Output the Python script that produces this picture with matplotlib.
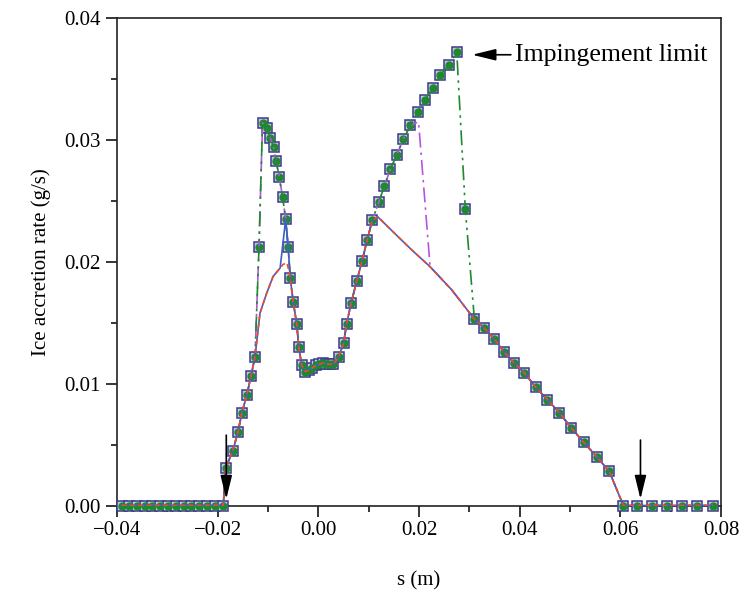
import matplotlib
matplotlib.use("Agg")
import matplotlib.pyplot as plt
from matplotlib.ticker import MultipleLocator, FuncFormatter

plt.rcParams["font.family"] = ["Liberation Serif", "DejaVu Serif"]

# zero region before the left impingement limit
s_zero_left = [-0.0391, -0.0376, -0.0360, -0.0345, -0.0330, -0.0314, -0.0299,
               -0.0283, -0.0268, -0.0253, -0.0237, -0.0222, -0.0206, -0.0189]
# rising part up to where the curves separate
s_rise = [-0.0184, -0.0170, -0.0160, -0.0152, -0.0142, -0.0134, -0.0126]
rate_rise = [0.0031, 0.0045, 0.0060, 0.0076, 0.0091, 0.0106, 0.0122]
# first peak (marker data)
s_peak1 = [-0.0118, -0.0111, -0.0103, -0.0096, -0.0089, -0.0084, -0.0078,
           -0.0071, -0.0065, -0.0060]
rate_peak1 = [0.0212, 0.0314, 0.0310, 0.0302, 0.0294, 0.0283, 0.0270,
              0.0253, 0.0235, 0.0212]
# middle part, common to all cases
s_mid = [-0.0056, -0.0050, -0.0043, -0.0039, -0.0033, -0.0026, -0.0019, -0.0012,
         -0.0005, 0.0002, 0.0009, 0.0016, 0.0023, 0.0030, 0.0040, 0.0050,
         0.0056, 0.0065, 0.0076, 0.0087, 0.0097, 0.0107]
rate_mid = [0.0187, 0.0167, 0.0149, 0.0130, 0.0115, 0.0110, 0.0111, 0.0113,
            0.0115, 0.0116, 0.0117, 0.0116, 0.0116, 0.0116, 0.0122, 0.0133,
            0.0149, 0.0166, 0.0184, 0.0201, 0.0218, 0.0234]
# second peak (marker data)
s_peak2 = [0.0120, 0.0131, 0.0143, 0.0156, 0.0169, 0.0183, 0.0197, 0.0212,
           0.0227, 0.0242, 0.0259, 0.0275, 0.0292]
rate_peak2 = [0.0249, 0.0262, 0.0276, 0.0288, 0.0301, 0.0312, 0.0323, 0.0333,
              0.0343, 0.0353, 0.0362, 0.0372, 0.0243]
# tail, common to all cases
s_tail = [0.0310, 0.0329, 0.0349, 0.0369, 0.0389, 0.0409, 0.0432, 0.0455,
          0.0479, 0.0502, 0.0527, 0.0553, 0.0578, 0.0606, 0.0634, 0.0663,
          0.0693, 0.0722, 0.0752, 0.0784]
rate_tail = [0.0153, 0.0146, 0.0137, 0.0126, 0.0117, 0.0109, 0.0097, 0.0087,
             0.0076, 0.0064, 0.0052, 0.0040, 0.0028, 0.0, 0.0, 0.0,
             0.0, 0.0, 0.0, 0.0]

# case specific pieces
s_blue_p1 = [-0.0116, -0.0103, -0.0090, -0.0076, -0.0065, -0.0060]
rate_blue_p1 = [0.0158, 0.0174, 0.0188, 0.0195, 0.0235, 0.0212]
s_red_p1 = [-0.0116, -0.0103, -0.0090, -0.0076, -0.0070, -0.0062]
rate_red_p1 = [0.0158, 0.0174, 0.0188, 0.0195, 0.0198, 0.0199]
s_low_p2 = [0.0118, 0.0150, 0.0185, 0.0222, 0.0265]
rate_low_p2 = [0.0237, 0.0224, 0.0210, 0.0196, 0.0177]
s_mag_p2 = [0.0120, 0.0131, 0.0143, 0.0156, 0.0169, 0.0183, 0.0199, 0.0222, 0.0265]
rate_mag_p2 = [0.0249, 0.0262, 0.0276, 0.0288, 0.0301, 0.0312, 0.0315, 0.0196, 0.0177]

rate_zero_left = [0.0] * len(s_zero_left)

s_pts = s_zero_left + s_rise + s_peak1 + s_mid + s_peak2 + s_tail
rate_pts = rate_zero_left + rate_rise + rate_peak1 + rate_mid + rate_peak2 + rate_tail

s_blue = s_zero_left + s_rise + s_blue_p1 + s_mid + s_low_p2 + s_tail
rate_blue = rate_zero_left + rate_rise + rate_blue_p1 + rate_mid + rate_low_p2 + rate_tail
s_red = s_zero_left + s_rise + s_red_p1 + s_mid + s_low_p2 + s_tail
rate_red = rate_zero_left + rate_rise + rate_red_p1 + rate_mid + rate_low_p2 + rate_tail
s_mag = s_zero_left + s_rise + s_peak1 + s_mid + s_mag_p2 + s_tail
rate_mag = rate_zero_left + rate_rise + rate_peak1 + rate_mid + rate_mag_p2 + rate_tail

fig = plt.figure(figsize=(7.41, 5.95), dpi=100)
ax = fig.add_axes([0.158, 0.1504, 0.815, 0.819])

# markers
ax.plot(s_pts, rate_pts, ls="none", marker="s", ms=7.5, mfc="#c4c4dc",
        mec="#3b3b8c", mew=1.1, zorder=3, clip_on=False)
ax.plot(s_pts, rate_pts, ls="none", marker="o", ms=5, mfc="#1d8a2e",
        mec="#1d8a2e", zorder=4, clip_on=False)

ax.plot(s_mag, rate_mag, color="#b455e0", lw=1.2, ls=(0, (9, 3, 1.5, 3)), zorder=5)
ax.plot(s_pts, rate_pts, color="#1d8a2e", lw=1.2,
        ls=(0, (9, 3, 1.5, 3, 1.5, 3)), zorder=5)
ax.plot(s_blue, rate_blue, color="#3e5fc8", lw=1.2, zorder=6)
ax.plot(s_red, rate_red, color="#ee4a2a", lw=1.2, ls=(0, (3, 2)), zorder=7)

arrow = dict(arrowstyle="-|>,head_length=0.9,head_width=0.22", color="black",
             lw=1.2, mutation_scale=16)
ax.annotate("", xy=(-0.0183, 0.0003), xytext=(-0.0183, 0.0060), arrowprops=arrow, zorder=8)
ax.annotate("", xy=(0.0640, 0.0003), xytext=(0.0640, 0.0056), arrowprops=arrow, zorder=8)
ax.annotate("", xy=(0.0300, 0.0370), xytext=(0.0388, 0.0370), arrowprops=arrow, zorder=8)
ax.text(0.0390, 0.0370, "Impingement limit", fontsize=18.5, va="center", ha="left")

ax.set_xlim(-0.04, 0.08)
ax.set_ylim(0, 0.04)
ax.xaxis.set_major_locator(MultipleLocator(0.02))
ax.xaxis.set_minor_locator(MultipleLocator(0.01))
ax.yaxis.set_major_locator(MultipleLocator(0.01))
ax.yaxis.set_minor_locator(MultipleLocator(0.005))
fmt = FuncFormatter(lambda v, p: ("%.2f" % v).replace("-", "\u2212"))
ax.xaxis.set_major_formatter(fmt)
ax.yaxis.set_major_formatter(fmt)
ax.tick_params(which="major", direction="out", length=8, width=1.1, labelsize=15,
               top=False, right=False)
ax.tick_params(which="minor", direction="out", length=4, width=1.1,
               top=False, right=False)
for sp in ax.spines.values():
    sp.set_linewidth(1.2)
    sp.set_color("#222222")

ax.set_xlabel("s (m)", fontsize=15, labelpad=22)
ax.set_ylabel("Ice accretion rate (g/s)", fontsize=15, labelpad=10)

fig.savefig("out.png", dpi=100)
